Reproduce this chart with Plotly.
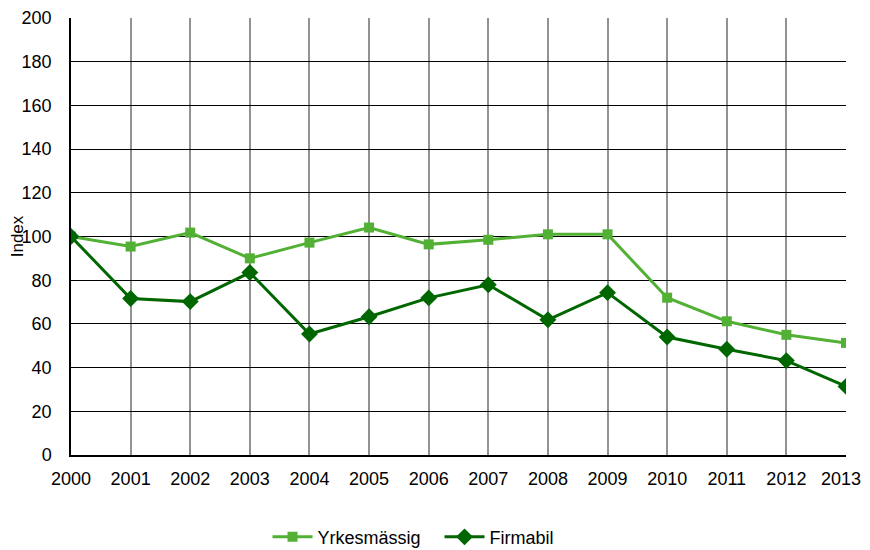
import plotly.graph_objects as go

years = list(range(2000, 2014))
year_labels = [str(y) for y in years]
yrkesmassig = [100, 95.4, 101.8, 90.0, 97.2, 104.1, 96.4, 98.5, 101.0, 101.0, 72.0, 61.2, 55.0, 51.3]
firmabil = [100, 71.6, 70.2, 83.5, 55.4, 63.3, 71.9, 77.9, 61.9, 74.3, 54.0, 48.4, 43.2, 31.4]
y_ticks = list(range(0, 201, 20))

# keep the last year label inside the visible page edge
tick_text = year_labels[:-1] + [year_labels[-1] + "\u00a0\u00a0"]

fig = go.Figure()
fig.add_trace(go.Scatter(
    x=years, y=yrkesmassig, name="Yrkesmässig", mode="lines+markers",
    line=dict(color="#52B035", width=3),
    marker=dict(symbol="square", size=10, color="#52B035"),
))
fig.add_trace(go.Scatter(
    x=years, y=firmabil, name="Firmabil", mode="lines+markers",
    line=dict(color="#006600", width=3),
    marker=dict(symbol="diamond", size=13, color="#006600"),
))

fig.update_layout(
    width=862, height=542,
    margin=dict(l=63, r=24, t=10, b=95, autoexpand=False),
    paper_bgcolor="white", plot_bgcolor="white",
    font=dict(family="Liberation Sans, Arial, sans-serif", size=18, color="black"),
    showlegend=True,
    legend=dict(orientation="h", x=0.4755, xanchor="center", y=-0.188, yanchor="middle",
                font=dict(size=18), itemwidth=40, entrywidth=117),
)
fig.update_xaxes(
    range=[2000, 2013], tickmode="array", tickvals=years, ticktext=tick_text,
    showgrid=True, gridcolor="#929292", gridwidth=2,
    showline=True, linecolor="black", linewidth=1.5, ticks="", zeroline=False,
    automargin=False, ticklabelstandoff=7, ticklabeloverflow="allow",
)
fig.update_yaxes(
    range=[0, 200], tickmode="array", tickvals=y_ticks,
    showgrid=True, gridcolor="black", gridwidth=1,
    showline=True, linecolor="black", linewidth=1.5, ticks="", zeroline=False,
    automargin=False, ticklabelstandoff=14,
    title=dict(text="Index", font=dict(size=17), standoff=2),
)
fig.write_html("out.html")
